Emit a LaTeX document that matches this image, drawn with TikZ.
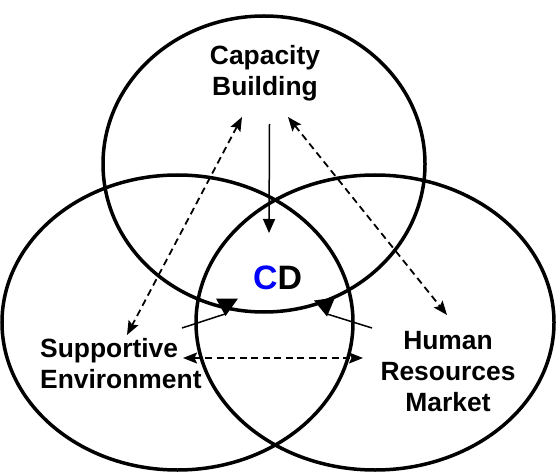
\documentclass[tikz,border=0pt]{standalone}
\usepackage{fontspec}
\setmainfont{Liberation Sans}
\usetikzlibrary{arrows.meta}
\definecolor{cdblue}{RGB}{0,0,255}
\begin{document}
\begin{tikzpicture}[x=1bp,y=-1bp,
  ring/.style={line width=3.5bp},
  lbl/.style={inner sep=0pt,font=\fontsize{26.5}{31}\selectfont\bfseries,align=center},
  dasharrow/.style={line width=1.8bp,dash pattern=on 7bp off 4.5bp,{Stealth[length=14bp,width=11bp,inset=2.5bp]}-{Stealth[length=14bp,width=11bp,inset=2.5bp]}},
  solidarrow/.style={line width=1.5bp},
  tip/.style={fill=black}]
\useasboundingbox (0,0) rectangle (556,472);
% circles
\draw[ring] (264,164) ellipse [x radius=161, y radius=148];
\draw[ring] (177.5,322.5) ellipse [x radius=175.5, y radius=147.5];
\draw[ring] (375,322.5) ellipse [x radius=179, y radius=147.5];
% labels
\node[lbl,anchor=north] (cb) at (265,45) {Capacity\\Building};
\node[lbl,anchor=north west,align=left] (se) at (40,338) {Supportive\\Environment};
\node[lbl,anchor=north] (hr) at (448,331.5) {Human\\Resources\\Market};
\node[inner sep=0pt,anchor=north,font=\fontsize{34}{40}\selectfont\bfseries] (cd) at (277.5,266) {\textcolor{cdblue}{C}D};
% connector end points
\coordinate (cbL) at (242,117);
\coordinate (cbR) at (288,117);
\coordinate (cbM) at (269.5,124);
\coordinate (cdT) at (269,233);
\coordinate (seT) at (127,335);
\coordinate (hrT) at (447,315);
\coordinate (seR) at (183,358);
\coordinate (hrL) at (363,358);
\coordinate (seS) at (182,328);
\coordinate (cdL) at (225,314);
\coordinate (hrS) at (372,328);
\coordinate (cdR) at (327,314);
% arrows
\draw[dasharrow] (cbL) -- (seT);
\draw[dasharrow] (cbR) -- (hrT);
\draw[dasharrow] (seR) -- (hrL);
\draw[solidarrow,-{Triangle[length=14bp,width=12bp]}] (cbM) -- (cdT);
\draw[solidarrow] (seS) -- (cdL);
\draw[solidarrow] (hrS) -- (cdR);
\fill[tip] (216,298.5) -- (238,298.5) -- (225.5,316) -- cycle;
\fill[tip] (314,300.5) -- (335,297.5) -- (327,316.5) -- cycle;
\end{tikzpicture}
\end{document}
